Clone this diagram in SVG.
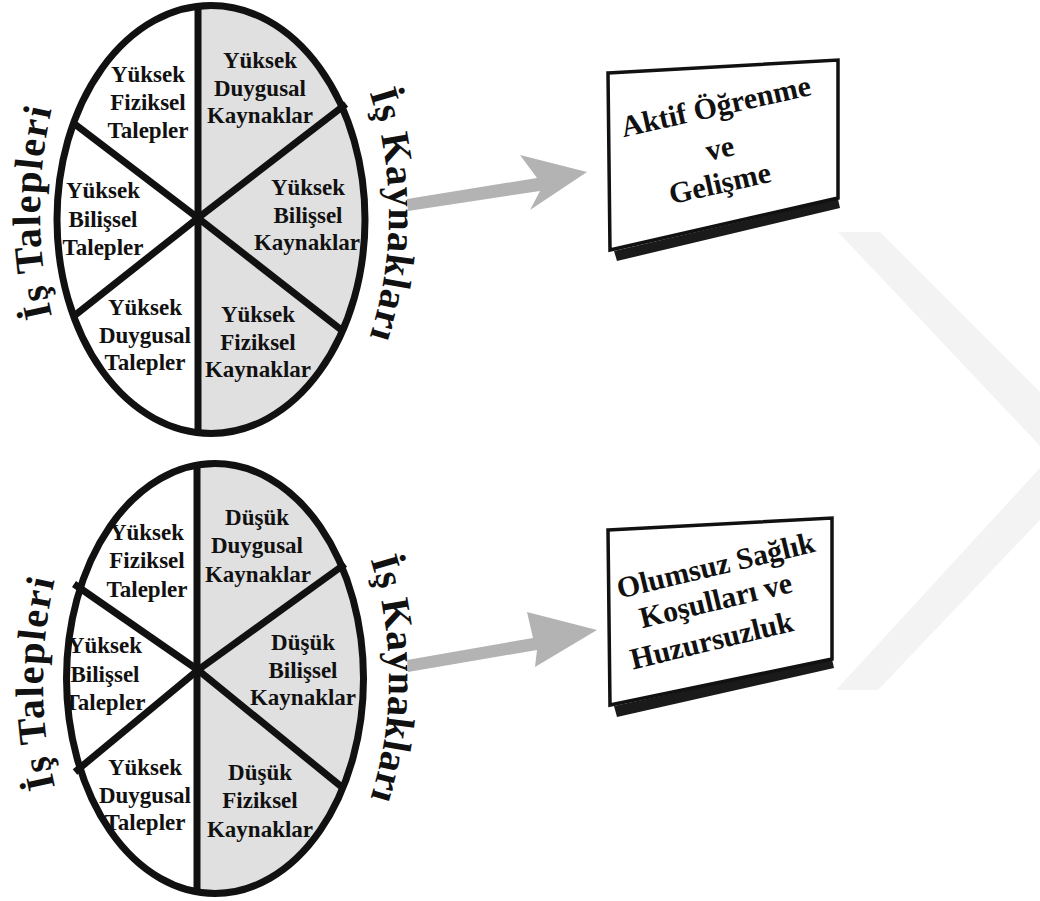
<svg xmlns="http://www.w3.org/2000/svg" width="1040" height="901" viewBox="0 0 1040 901">
<style>
.seg{font-family:"Liberation Serif","Times New Roman",serif;font-weight:bold;font-size:23px;fill:#111;text-anchor:middle}
.arc{font-family:"Liberation Serif","Times New Roman",serif;font-weight:bold;font-size:40px;fill:#111}
.box{font-family:"Liberation Serif","Times New Roman",serif;font-weight:bold;font-size:30px;fill:#111;text-anchor:middle}
.rim{fill:none;stroke:#111;stroke-width:7}
.div{stroke:#111;stroke-width:7;stroke-linecap:butt}
.frame{fill:#fff;stroke:#111;stroke-width:3.5}
.shadow{fill:#1a1a1a}
.arrow{fill:#b3b3b3}
.wm{fill:#f3f3f3}
</style>
<defs>
<clipPath id="c1"><ellipse cx="211" cy="219.5" rx="154" ry="214"/></clipPath>
<clipPath id="c2"><ellipse cx="215" cy="678.5" rx="148.5" ry="215"/></clipPath>
<path id="p1" d="M 56 332 Q 24 212 56 92"/>
<path id="p2" d="M 366 82 Q 412 215 366 348"/>
<path id="p3" d="M 59 803 Q 27 683 59 563"/>
<path id="p4" d="M 366 546 Q 412 679 366 812"/>
</defs>
<rect width="1040" height="901" fill="#fff"/>

<g id="watermark">
<polygon class="wm" points="838,232 880,232 1040,392 1040,446"/>
<polygon class="wm" points="1040,468 1040,520 878,690 836,690"/>
</g>

<g id="wheel-top">
<ellipse cx="211" cy="219.5" rx="154" ry="214" fill="#fff"/>
<rect x="198" y="0" width="180" height="440" fill="#e0e0e0" clip-path="url(#c1)"/>
<line class="div" x1="198" y1="4" x2="198" y2="435"/>
<line class="div" x1="72" y1="122" x2="198" y2="218"/>
<line class="div" x1="346" y1="104" x2="198" y2="218"/>
<line class="div" x1="74" y1="316" x2="198" y2="218"/>
<line class="div" x1="344" y1="332" x2="198" y2="218"/>
<ellipse class="rim" cx="211" cy="219.5" rx="154" ry="214"/>
<text class="seg" x="148" y="82">Yüksek</text>
<text class="seg" x="148" y="110">Fiziksel</text>
<text class="seg" x="148" y="138">Talepler</text>
<text class="seg" x="260" y="68">Yüksek</text>
<text class="seg" x="260" y="96">Duygusal</text>
<text class="seg" x="260" y="123">Kaynaklar</text>
<text class="seg" x="103" y="198">Yüksek</text>
<text class="seg" x="103" y="227">Bilişsel</text>
<text class="seg" x="103" y="255">Talepler</text>
<text class="seg" x="308" y="195">Yüksek</text>
<text class="seg" x="308" y="223">Bilişsel</text>
<text class="seg" x="307" y="250">Kaynaklar</text>
<text class="seg" x="145" y="315">Yüksek</text>
<text class="seg" x="145" y="343">Duygusal</text>
<text class="seg" x="145" y="370">Talepler</text>
<text class="seg" x="258" y="322">Yüksek</text>
<text class="seg" x="258" y="350">Fiziksel</text>
<text class="seg" x="258" y="377">Kaynaklar</text>
<text class="arc" letter-spacing="1.5"><textPath href="#p1" startOffset="50%" text-anchor="middle">İş Talepleri</textPath></text>
<text class="arc" letter-spacing="1"><textPath href="#p2" startOffset="50%" text-anchor="middle">İş Kaynakları</textPath></text>
</g>

<g id="wheel-bottom">
<ellipse cx="215" cy="678.5" rx="148.5" ry="215" fill="#fff"/>
<rect x="197" y="460" width="180" height="440" fill="#e0e0e0" clip-path="url(#c2)"/>
<line class="div" x1="197" y1="463" x2="197" y2="894"/>
<line class="div" x1="74" y1="584" x2="198" y2="670"/>
<line class="div" x1="345" y1="564" x2="198" y2="670"/>
<line class="div" x1="75" y1="772" x2="198" y2="670"/>
<line class="div" x1="343" y1="788" x2="198" y2="670"/>
<ellipse class="rim" cx="215" cy="678.5" rx="148.5" ry="215"/>
<text class="seg" x="147" y="540">Yüksek</text>
<text class="seg" x="147" y="568">Fiziksel</text>
<text class="seg" x="147" y="597">Talepler</text>
<text class="seg" x="257" y="525">Düşük</text>
<text class="seg" x="257" y="553">Duygusal</text>
<text class="seg" x="258" y="582">Kaynaklar</text>
<text class="seg" x="105" y="653">Yüksek</text>
<text class="seg" x="105" y="682">Bilişsel</text>
<text class="seg" x="105" y="710">Talepler</text>
<text class="seg" x="303" y="650">Düşük</text>
<text class="seg" x="303" y="678">Bilişsel</text>
<text class="seg" x="303" y="705">Kaynaklar</text>
<text class="seg" x="145" y="775">Yüksek</text>
<text class="seg" x="145" y="803">Duygusal</text>
<text class="seg" x="145" y="830">Talepler</text>
<text class="seg" x="260" y="780">Düşük</text>
<text class="seg" x="260" y="808">Fiziksel</text>
<text class="seg" x="260" y="837">Kaynaklar</text>
<text class="arc" letter-spacing="1.5"><textPath href="#p3" startOffset="50%" text-anchor="middle">İş Talepleri</textPath></text>
<text class="arc" letter-spacing="0.5"><textPath href="#p4" startOffset="50%" text-anchor="middle">İş Kaynakları</textPath></text>
</g>

<g id="box-top">
<polygon class="shadow" points="614,251 838,199 840,208 617,261"/>
<polygon class="frame" points="608,73 838,60 838,198 610,250"/>
<text class="box" transform="translate(718 116) rotate(-12.7)">Aktif Öğrenme</text>
<text class="box" transform="translate(722 158) rotate(-12.7)">ve</text>
<text class="box" transform="translate(722 193) rotate(-12.7)">Gelişme</text>
</g>

<g id="box-bottom">
<polygon class="shadow" points="614,706 832,659 834,668 617,717"/>
<polygon class="frame" points="608,530 832,518 832,659 610,705"/>
<text class="box" transform="translate(718 575) rotate(-13.5)">Olumsuz Sağlık</text>
<text class="box" transform="translate(718 610) rotate(-13.5)">Koşulları ve</text>
<text class="box" transform="translate(714 650) rotate(-13.5)">Huzursuzluk</text>
</g>

<g id="connectors">
<polygon class="arrow" points="407,199 537,178 520,155 587,172 530,210 540,191 408,211"/>
<polygon class="arrow" points="407,660 533,638 527,612 597,630 535,667 537,650 408,672"/>
</g>
</svg>
